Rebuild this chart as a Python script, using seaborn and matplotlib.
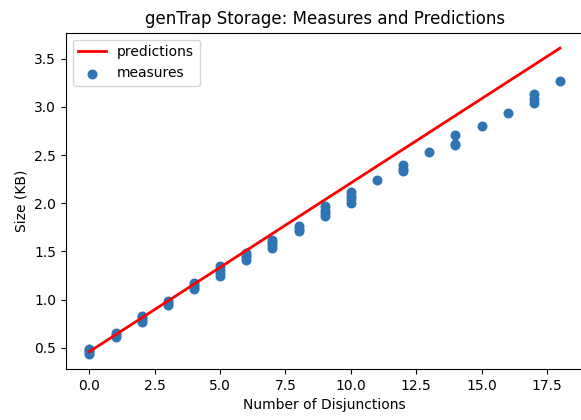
import matplotlib
matplotlib.use("Agg")
import matplotlib.pyplot as plt
import seaborn as sns
import pandas as pd

# Predictions (straight line) at each number of disjunctions
pred_x = [0, 1, 2, 3, 4, 5, 6, 7, 8, 9, 10, 11, 12, 13, 14, 15, 16, 17, 18]
pred_y = [0.46, 0.635, 0.81, 0.985, 1.16, 1.335, 1.51, 1.685, 1.86, 2.035,
          2.21, 2.385, 2.56, 2.735, 2.91, 3.085, 3.26, 3.435, 3.61]

# Measures
meas_x = [0, 0, 0, 0,
          1, 1, 1,
          2, 2, 2, 2,
          3, 3, 3,
          4, 4, 4, 4,
          5, 5, 5, 5,
          6, 6, 6, 6,
          7, 7, 7, 7,
          8, 8, 8,
          9, 9, 9, 9,
          10, 10, 10, 10,
          11,
          12, 12, 12,
          13,
          14, 14, 14,
          15,
          16,
          17, 17, 17,
          18]
meas_y = [0.44, 0.46, 0.48, 0.49,
          0.61, 0.63, 0.655,
          0.77, 0.79, 0.81, 0.83,
          0.945, 0.965, 0.985,
          1.11, 1.13, 1.15, 1.17,
          1.25, 1.28, 1.31, 1.35,
          1.41, 1.44, 1.46, 1.48,
          1.54, 1.57, 1.60, 1.62,
          1.71, 1.73, 1.76,
          1.87, 1.90, 1.93, 1.97,
          2.00, 2.04, 2.08, 2.12,
          2.24,
          2.33, 2.36, 2.40,
          2.53,
          2.60, 2.62, 2.71,
          2.80,
          2.94,
          3.04, 3.08, 3.13,
          3.27]

pred_df = pd.DataFrame({"x": pred_x, "y": pred_y})
meas_df = pd.DataFrame({"x": meas_x, "y": meas_y})

fig = plt.figure(figsize=(5.81, 4.2), dpi=100)
ax = fig.add_axes([0.1133, 0.1214, 0.891, 0.8007])

sns.lineplot(data=pred_df, x="x", y="y", color="red", linewidth=2.0,
             label="predictions", ax=ax)
sns.scatterplot(data=meas_df, x="x", y="y", color="#2f74b5", edgecolor="#2f74b5",
                linewidth=1.0, s=38, label="measures", ax=ax, zorder=1)

ax.set_title("genTrap Storage: Measures and Predictions", fontsize=12)
ax.set_xlabel("Number of Disjunctions")
ax.set_ylabel("Size (KB)")
ax.set_xticks([0, 2.5, 5, 7.5, 10, 12.5, 15, 17.5])
ax.set_xticklabels(["0.0", "2.5", "5.0", "7.5", "10.0", "12.5", "15.0", "17.5"])
ax.set_yticks([0.5, 1.0, 1.5, 2.0, 2.5, 3.0, 3.5])
ax.set_xlim(-0.9, 18.9)
ax.set_ylim(0.28, 3.77)
ax.legend(loc="upper left")

fig.savefig("out.png", dpi=100)
